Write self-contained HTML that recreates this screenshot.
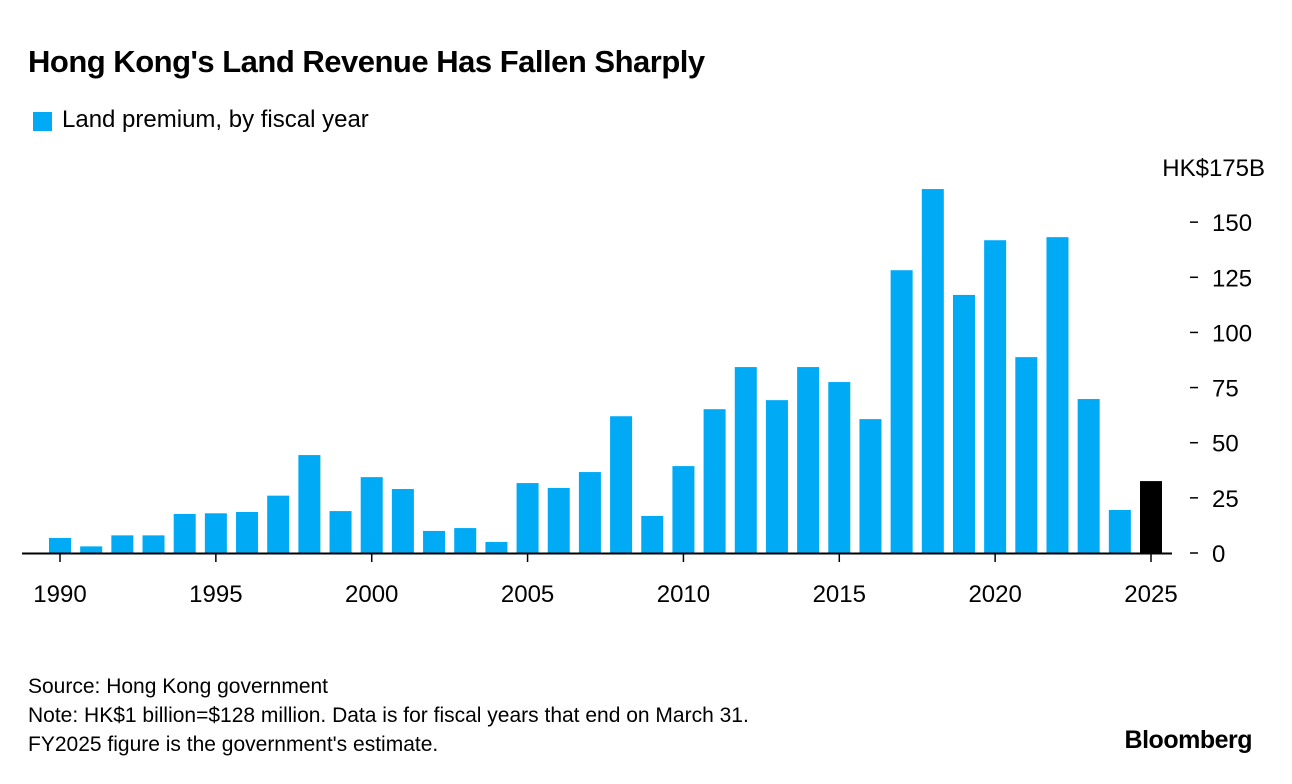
<!DOCTYPE html>
<html><head><meta charset="utf-8"><style>
body{margin:0;width:1292px;height:784px;background:#fff;font-family:"Liberation Sans",sans-serif;color:#000;position:relative;overflow:hidden}
.t{position:absolute;white-space:nowrap}
</style></head><body>
<div class="t" style="left:28px;top:44px;font-size:31px;font-weight:bold;letter-spacing:-0.5px">Hong Kong's Land Revenue Has Fallen Sharply</div>
<div style="position:absolute;left:33px;top:112px;width:19px;height:19px;background:#00aaf5"></div>
<div class="t" style="left:62px;top:106px;font-size:24px">Land premium, by fiscal year</div>
<svg id="chart" width="1292" height="784" style="position:absolute;left:0;top:0"></svg>
<div class="t" style="left:28px;top:672px;font-size:21px;line-height:29px">Source: Hong Kong government<br>Note: HK$1 billion=$128 million. Data is for fiscal years that end on March 31.<br>FY2025 figure is the government's estimate.</div>
<div class="t" style="right:40px;top:726px;font-size:25px;font-weight:bold;letter-spacing:-0.5px">Bloomberg</div>
<script>
const years=[1990,1991,1992,1993,1994,1995,1996,1997,1998,1999,2000,2001,2002,2003,2004,2005,2006,2007,2008,2009,2010,2011,2012,2013,2014,2015,2016,2017,2018,2019,2020,2021,2022,2023,2024,2025];
const values=[6.8,3,8,8,17.7,18,18.6,26,44.4,19,34.4,29,10,11.3,5,31.7,29.5,36.7,62,16.8,39.4,65.2,84.3,69.3,84.3,77.5,60.7,128.2,165,117,141.8,88.8,143.2,69.8,19.5,32.6];
const yTicks=[0,25,50,75,100,125,150];
const xTicks=[1990,1995,2000,2005,2010,2015,2020,2025];
const svg=document.getElementById('chart');const NS='http://www.w3.org/2000/svg';
const xS=yr=>60+(yr-1990)*(1151-60)/35;
const yS=v=>553-v*(553-167)/175;
function mk(t,a){const e=document.createElementNS(NS,t);for(const k in a)e.setAttribute(k,a[k]);svg.appendChild(e);return e;}
years.forEach((yr,i)=>{const v=values[i];
const r=mk('rect',{x:xS(yr)-11,y:yS(v),width:22,height:553-yS(v),fill:yr===2025?'#000':'#00aaf5'});

});
mk('line',{x1:22,x2:1172,y1:553.5,y2:553.5,stroke:'#000','stroke-width':2});
yTicks.forEach(v=>{mk('line',{x1:1190,x2:1198,y1:yS(v),y2:yS(v),stroke:'#000','stroke-width':1.5});
const t=mk('text',{x:1212,y:yS(v)+9,'font-size':24,'font-family':'Liberation Sans'});t.textContent=v;

});
const unitLabel=mk('text',{x:1265,y:176,'font-size':24,'text-anchor':'end','font-family':'Liberation Sans'});unitLabel.textContent='HK$175B';


xTicks.forEach(yr=>{mk('line',{x1:xS(yr),x2:xS(yr),y1:553,y2:562,stroke:'#000','stroke-width':1.5});
const t=mk('text',{x:xS(yr),y:602,'font-size':24,'text-anchor':'middle','font-family':'Liberation Sans'});t.textContent=yr;

});
</script>
</body></html>
